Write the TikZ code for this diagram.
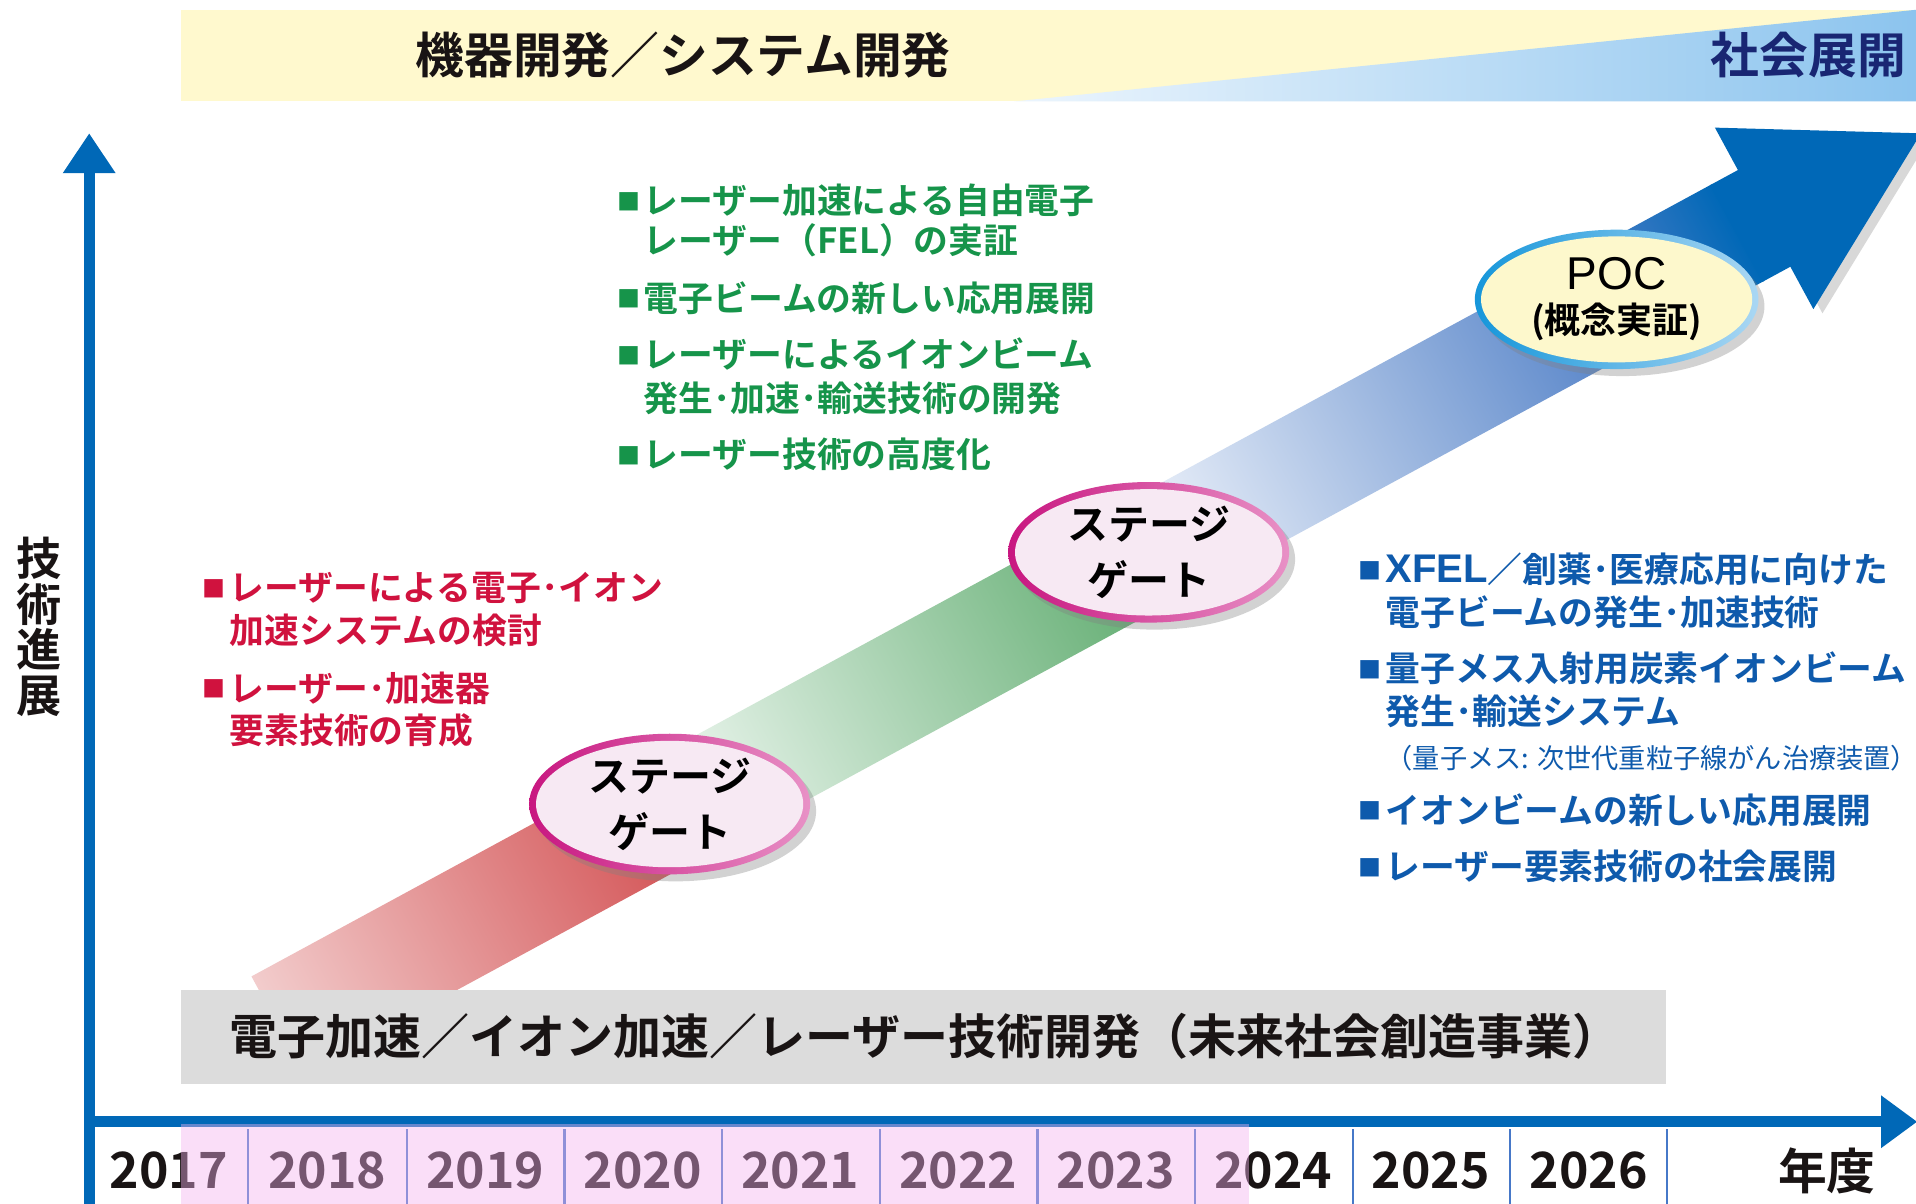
\documentclass[tikz,border=0pt]{standalone}
\usepackage{fontspec}
\usepackage{graphicx}
\setmainfont{Noto Sans CJK JP}[BoldFont={Noto Sans CJK JP Bold}]
\newfontfamily\lat{Liberation Sans}
\usetikzlibrary{shapes.geometric,shadows,arrows.meta}
\definecolor{bandyellow}{RGB}{255,249,206}
\definecolor{skyL}{RGB}{236,245,253}
\definecolor{skyR}{RGB}{140,196,238}
\definecolor{headblack}{RGB}{25,20,20}
\definecolor{navy}{RGB}{25,38,115}
\definecolor{bandgray}{RGB}{220,220,220}
\definecolor{redL}{RGB}{242,204,204}
\definecolor{redR}{RGB}{210,78,80}
\definecolor{greenL}{RGB}{240,248,242}
\definecolor{greenR}{RGB}{92,170,108}
\definecolor{blueL}{RGB}{240,244,251}
\definecolor{blueM}{RGB}{78,126,198}
\definecolor{arrowblue}{RGB}{0,104,183}
\definecolor{gateL}{RGB}{200,22,128}
\definecolor{gateR}{RGB}{232,145,198}
\definecolor{gatefill}{RGB}{247,233,243}
\definecolor{pocL}{RGB}{22,150,218}
\definecolor{pocR}{RGB}{170,215,243}
\definecolor{pocfill}{RGB}{253,248,204}
\definecolor{myred}{RGB}{208,18,62}
\definecolor{mygreen}{RGB}{22,148,74}
\definecolor{myblue}{RGB}{14,90,172}
\definecolor{sepblue}{RGB}{70,120,200}
\definecolor{pinkov}{RGB}{245,178,240}
\newcommand\bul{\makebox[13.4pt][l]{\raisebox{0.1em}{\scalebox{0.66}{■}}}}
\begin{document}
\begin{tikzpicture}[x=0.611pt,y=-0.611pt,
  every node/.style={inner sep=0pt,outer sep=0pt},
  head/.style={font=\bfseries\fontsize{24.4pt}{28pt}\selectfont, text height=21.5pt, text depth=2.9pt},
  listtxt/.style={anchor=west, font=\bfseries\fontsize{17.4pt}{21pt}\selectfont, text height=15.3pt, text depth=2.1pt},
  redtxt/.style={listtxt, text=myred},
  greentxt/.style={listtxt, text=mygreen},
  bluetxt/.style={listtxt, text=myblue},
  smalltxt/.style={anchor=west, text=myblue, font=\fontsize{13.6pt}{16pt}\selectfont, text height=12pt, text depth=1.6pt},
  yearlab/.style={font=\bfseries\fontsize{25pt}{28pt}\selectfont, text height=18.3pt, text depth=0pt},
  gate/.style={ellipse, minimum width=140.5pt, minimum height=70.3pt,
    left color=gateL, right color=gateR,
    drop shadow={shadow xshift=3pt,shadow yshift=-3.5pt,opacity=0.35},
    path picture={\fill[gatefill] (path picture bounding box.center) ellipse [x radius=66.8pt,y radius=31.6pt];},
    align=center, font=\bfseries\fontsize{20.5pt}{28pt}\selectfont},
  pocnode/.style={ellipse, minimum width=141.8pt, minimum height=69.7pt,
    left color=pocL, right color=pocR,
    drop shadow={shadow xshift=3pt,shadow yshift=-3.5pt,opacity=0.35},
    path picture={\fill[pocfill] (path picture bounding box.center) ellipse [x radius=67.8pt,y radius=31.5pt];},
    align=center, font=\bfseries\fontsize{18pt}{22pt}\selectfont},
  axis/.style={arrowblue, line width=5.5pt}
]
\useasboundingbox (0,0) rectangle (1568,985);
\fill[white] (0,0) rectangle (1568,985);

% top band
\fill[bandyellow] (148,8) rectangle (1568,83);
\shade[left color=skyL, right color=skyR] (830,83) -- (1568,83) -- (1568,8) -- cycle;
\node[head, text=headblack] (h1) at (559,45) {機器開発／システム開発};
\node[head, text=navy] (h2) at (1480,45) {社会展開};

% diagonal band
\begin{scope}[transform canvas={shift={(280,810)}, rotate=28.48}]
  \shade[left color=redL, right color=redR] (-60,-45) rectangle (312,45);
  \shade[left color=greenL, right color=greenR] (310,-45) rectangle (753,45);
  \shade[left color=blueL, right color=blueM] (751,-45) rectangle (1188,45);
  \shade[left color=blueM, right color=arrowblue] (1186,-45) rectangle (1300,45);
  \fill[arrowblue] (1298,-45) rectangle (1326,45);
  \fill[arrowblue, drop shadow={shadow xshift=3pt,shadow yshift=-4pt,opacity=0.3}] (1324,-84.5) -- (1470,0) -- (1324,84.5) -- cycle;
\end{scope}

% bottom band
\fill[bandgray] (148,810) rectangle (1363,887);
\node[head, text=headblack, font=\bfseries\fontsize{24pt}{28pt}\selectfont] (h3) at (757,848) {電子加速／イオン加速／レーザー技術開発（未来社会創造事業）};

% gates
\node[gate] (gate1) at (548,658) {ステージ\\ゲート};
\node[gate] (gate2) at (940,452) {ステージ\\ゲート};
\node[pocnode] (poc) at (1323,245) {{\lat\mdseries\fontsize{23pt}{22pt}\selectfont POC}\\(概念実証)};

% red list
\node[redtxt] (r1) at (166,481) {\bul レーザーによる電子･イオン};
\node[redtxt] (r2) at (188,516) {加速システムの検討};
\node[redtxt] (r3) at (166,563) {\bul レーザー･加速器};
\node[redtxt] (r4) at (188,598) {要素技術の育成};

% green list
\node[greentxt] (g1) at (505,164) {\bul レーザー加速による自由電子};
\node[greentxt] (g2) at (527,197) {レーザー（FEL）の実証};
\node[greentxt] (g3) at (505,244) {\bul 電子ビームの新しい応用展開};
\node[greentxt] (g4) at (505,290) {\bul レーザーによるイオンビーム};
\node[greentxt] (g5) at (527,326) {発生･加速･輸送技術の開発};
\node[greentxt] (g6) at (505,372) {\bul レーザー技術の高度化};

% blue list
\node[bluetxt] (b1) at (1112,466) {\bul {\lat\fontsize{20pt}{21pt}\selectfont XFEL}／創薬･医療応用に向けた};
\node[bluetxt] (b2) at (1134,501) {電子ビームの発生･加速技術};
\node[bluetxt] (b3) at (1112,547) {\bul 量子メス入射用炭素イオンビーム};
\node[bluetxt] (b4) at (1134,582) {発生･輸送システム};
\node[smalltxt] (b5) at (1134,620) {（量子メス: 次世代重粒子線がん治療装置）};
\node[bluetxt] (b6) at (1112,663) {\bul イオンビームの新しい応用展開};
\node[bluetxt] (b7) at (1112,709) {\bul レーザー要素技術の社会展開};

% axes
\coordinate (yb) at (73,985);
\coordinate (yt) at (73,109);
\draw[axis, -{Triangle[length=20pt,width=25pt]}] (yb) -- (yt);
\coordinate (xl) at (73,918);
\coordinate (xr) at (1569,918);
\draw[axis, -{Triangle[length=18pt,width=25pt]}] (xl) -- (xr);
\node[font=\bfseries\fontsize{22.6pt}{22.9pt}\selectfont, align=center, text=headblack] (vlab) at (32,513) {技\\術\\進\\展};

% year cells
\foreach \x in {203,333,462,591,720,849,978,1107,1236,1364}
  \draw[sepblue, line width=1.1pt] (\x,924) -- (\x,985);
\foreach \yr/\x in {2017/138,2018/268,2019/397,2020/526,2021/655,2022/784,2023/913,2024/1042,2025/1171,2026/1300}
  \node[yearlab, text=headblack] (y\yr) at (\x,958) {\yr};
\node[head, text=headblack] (nendo) at (1495,958) {年度};
\fill[pinkov, opacity=0.42] (148,920) rectangle (1022,985);
\end{tikzpicture}
\end{document}
